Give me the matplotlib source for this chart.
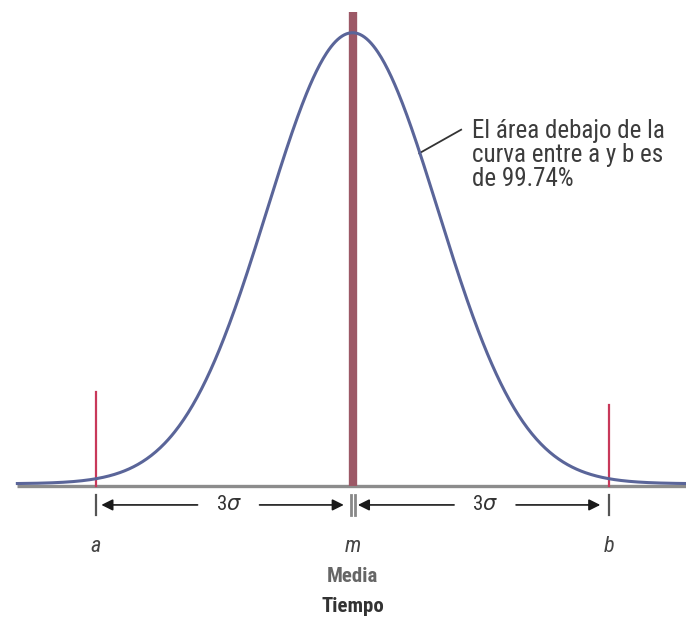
import numpy as np
import matplotlib.pyplot as plt
from matplotlib import font_manager

# distribution parameters (diagram in units of sigma)
media = 0.0
sigma = 1.0
k = 3  # a = m - 3 sigma, b = m + 3 sigma

# vertical marker heights (fraction of the peak height)
red_heights = [0.208, 0.180]
center_height = 1.051

point_labels = ['a', 'm', 'b']
span_label = r'3$\sigma$'
note = 'El área debajo de la\ncurva entre a y b es\nde 99.74%'
xlabel_1 = 'Media'
xlabel_2 = 'Tiempo'

# look for a condensed face, fall back to Liberation Sans
entries = font_manager.fontManager.ttflist
names = {f.name for f in entries}
family, stretch = 'Liberation Sans', 'normal'
for cand in ['Liberation Sans Narrow', 'Roboto Condensed', 'Open Sans Condensed']:
    if cand in names:
        family = cand
        break
else:
    if any(f.name == 'DejaVu Sans' and str(f.stretch) == 'condensed' for f in entries):
        family, stretch = 'DejaVu Sans', 'condensed'
plt.rcParams['font.family'] = [family, 'DejaVu Sans']
plt.rcParams['font.stretch'] = stretch

fig = plt.figure(figsize=(6.86, 6.17), dpi=100)
ax = fig.add_axes([0, 0, 1, 1])
ax.set_xlim(-4.123, 3.90)
ax.set_ylim(-0.2905, 1.0776)
ax.axis('off')

a = media - k * sigma
b = media + k * sigma

# baseline
ax.plot([-3.92, 3.90], [0, 0], color='#8c8c8c', lw=2.4, solid_capstyle='butt', zorder=1)

# normal curve, peak scaled to 1
x = np.linspace(-3.92, 3.90, 600)
y = np.exp(-0.5 * ((x - media) / sigma) ** 2)
ax.plot(x, y + 0.005, color='#5a6599', lw=2.2, zorder=3)

# red markers at a and b
ax.plot([a, a], [0, red_heights[0]], color='#c8385a', lw=1.6, zorder=2)
ax.plot([b, b], [0, red_heights[1]], color='#c8385a', lw=1.6, zorder=2)

# mean bar
ax.plot([media, media], [0, center_height], color='#9c5866', lw=6, solid_capstyle='butt', zorder=2)

# span arrows below the axis
ya = -0.042
for x0, x1 in [(a, media), (media, b)]:
    mid = (x0 + x1) / 2 + 0.05
    ax.text(mid, ya, span_label, ha='center', va='center', fontsize=15, color='#333333')
    ax.annotate('', xy=(x0 + 0.03, ya), xytext=(mid - 0.33, ya),
                arrowprops=dict(arrowstyle='-|>', color='#1a1a1a', lw=1.2, mutation_scale=17))
    ax.annotate('', xy=(x1 - 0.07, ya), xytext=(mid + 0.33, ya),
                arrowprops=dict(arrowstyle='-|>', color='#1a1a1a', lw=1.2, mutation_scale=17))
for xt in [a, b]:
    ax.plot([xt, xt], [ya - 0.022, ya + 0.022], color='#555555', lw=1.6)
ax.plot([media - 0.02, media - 0.02], [ya - 0.022, ya + 0.022], color='#888888', lw=2)
ax.plot([media + 0.03, media + 0.03], [ya - 0.022, ya + 0.022], color='#888888', lw=2)

# point labels
for xt, lab in zip([a, media, b], point_labels):
    ax.text(xt, -0.135, lab, ha='center', va='center', fontsize=16,
            style='italic', color='#444444')

ax.text(media, -0.2, xlabel_1, ha='center', va='center', fontsize=15,
        fontweight='bold', color='#666666')
ax.text(media, -0.267, xlabel_2, ha='center', va='center', fontsize=15,
        fontweight='bold', color='#333333')

# annotation with leader line from the curve
lx = 0.78
ax.plot([lx, 1.27], [np.exp(-0.5 * lx ** 2), 0.79], color='#333333', lw=1.3)
ax.text(1.40, 0.814, note, ha='left', va='top', fontsize=18,
        color='#3c3c3c', linespacing=1.0)

fig.savefig('out.png', dpi=100)
